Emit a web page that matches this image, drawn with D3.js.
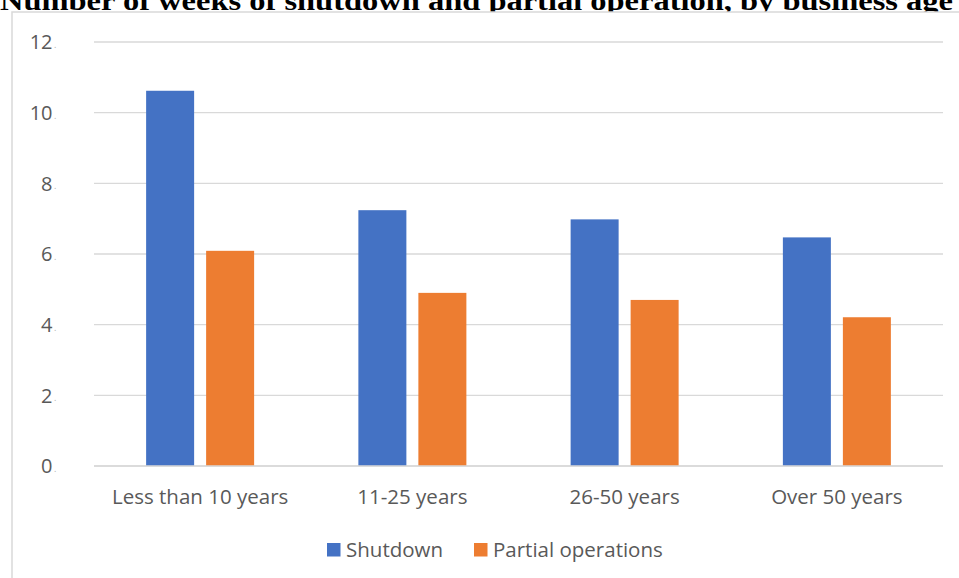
<!DOCTYPE html>
<html>
<head>
<meta charset="utf-8">
<script src="https://cdn.jsdelivr.net/npm/d3@7"></script>
<style>
  html, body { margin: 0; padding: 0; background: #fff; }
  svg { display: block; }
</style>
</head>
<body>
<svg id="chart" width="959" height="578"></svg>
<script>
// Weeks of shutdown and partial operation, by business age
const categories = ["Less than 10 years", "11-25 years", "26-50 years", "Over 50 years"];
const shutdown = [10.62, 7.24, 6.98, 6.47];
const partial = [6.09, 4.9, 4.7, 4.21];
const seriesNames = ["Shutdown", "Partial operations"];
const yTicks = [0, 2, 4, 6, 8, 10, 12];
const chartTitle = "Number of weeks of shutdown and partial operation, by business age";

const colors = ["#4472c4", "#ed7d31"];
const gridColor = "#d9d9d9";
const textColor = "#595959";
const font = "'Open Sans', 'Segoe UI', sans-serif";

const svg = d3.select("#chart");

// Title sits above the chart frame; the frame overlaps its lower part
svg.append("text")
  .attr("x", 0).attr("y", 10)
  .attr("textLength", 953)
  .attr("lengthAdjust", "spacingAndGlyphs")
  .style("font-family", "'Liberation Serif', 'Times New Roman', serif")
  .style("font-weight", "bold")
  .style("font-size", "28px")
  .attr("fill", "#000")
  .text(chartTitle);

// Chart frame
svg.append("rect")
  .attr("x", 12).attr("y", 12)
  .attr("width", 980).attr("height", 600)
  .attr("fill", "#fff")
  .attr("stroke", gridColor)
  .attr("stroke-width", 1.5);

const plot = { left: 94, right: 943, top: 42, bottom: 466 };

const x = d3.scaleBand()
  .domain(categories)
  .range([plot.left, plot.right])
  .paddingInner(0).paddingOuter(0);

const y = d3.scaleLinear()
  .domain([0, 12])
  .range([plot.bottom, plot.top]);

const barW = 48, barGap = 12;
const sub = d3.scaleOrdinal()
  .domain(seriesNames)
  .range([-(barW + barGap / 2), barGap / 2]);

// Horizontal gridlines
svg.append("g")
  .selectAll("line")
  .data(yTicks)
  .join("line")
  .attr("x1", plot.left).attr("x2", plot.right)
  .attr("y1", d => y(d)).attr("y2", d => y(d))
  .attr("stroke", gridColor)
  .attr("stroke-width", 1.4);

// Y tick labels (trailing decimal clipped by the label box)
svg.append("g")
  .selectAll("text")
  .data(yTicks)
  .join("text")
  .attr("x", 52.5)
  .attr("y", d => y(d))
  .attr("dy", "0.36em")
  .attr("text-anchor", "end")
  .style("font-family", font)
  .style("font-size", "20px")
  .attr("fill", textColor)
  .text(d => d);
svg.append("g")
  .selectAll("text")
  .data(yTicks)
  .join("text")
  .attr("x", 54)
  .attr("y", d => y(d))
  .attr("dy", "0.65em")
  .style("font-family", font)
  .style("font-size", "9px")
  .attr("fill", "#b0b0b0")
  .text(".");

// Bars
const series = [shutdown, partial];
series.forEach((vals, si) => {
  svg.append("g")
    .selectAll("rect")
    .data(categories.map((c, i) => ({ c, v: vals[i] })))
    .join("rect")
    .attr("x", d => x(d.c) + x.bandwidth() / 2 + sub(seriesNames[si]))
    .attr("y", d => y(d.v))
    .attr("width", barW)
    .attr("height", d => y(0) - y(d.v))
    .attr("fill", colors[si]);
});

// Baseline drawn over the bar bottoms
svg.append("line")
  .attr("x1", plot.left).attr("x2", plot.right)
  .attr("y1", y(0)).attr("y2", y(0))
  .attr("stroke", gridColor)
  .attr("stroke-width", 1.4);

// Category labels
svg.append("g")
  .selectAll("text")
  .data(categories)
  .join("text")
  .attr("x", d => x(d) + x.bandwidth() / 2)
  .attr("y", 504)
  .attr("text-anchor", "middle")
  .style("font-family", font)
  .style("font-size", "20.5px")
  .attr("fill", textColor)
  .text(d => d);

// Legend
const legendItems = [
  { name: seriesNames[0], color: colors[0], x: 327 },
  { name: seriesNames[1], color: colors[1], x: 474 }
];
const lg = svg.append("g")
  .selectAll("g")
  .data(legendItems)
  .join("g")
  .attr("transform", d => `translate(${d.x},0)`);
lg.append("rect")
  .attr("x", 0).attr("y", 543)
  .attr("width", 13.5).attr("height", 13.5)
  .attr("fill", d => d.color);
lg.append("text")
  .attr("x", 19).attr("y", 557)
  .style("font-family", font)
  .style("font-size", "20.5px")
  .attr("fill", textColor)
  .text(d => d.name);
</script>
</body>
</html>
